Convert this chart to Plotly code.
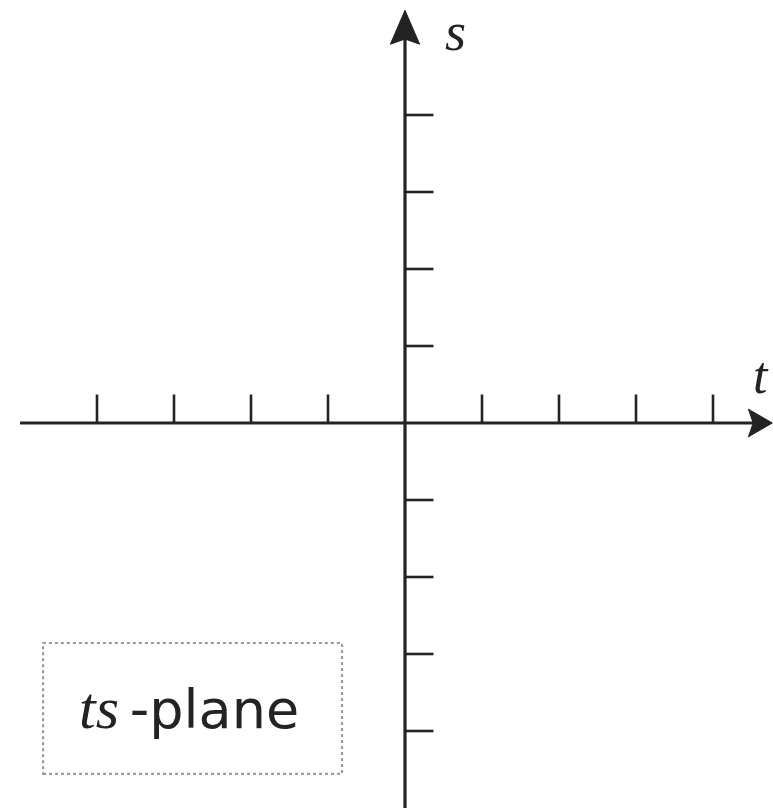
import plotly.graph_objects as go

# ---- data ----
t_ticks = [-4, -3, -2, -1, 1, 2, 3, 4]
s_ticks = [-4, -3, -2, -1, 1, 2, 3, 4]
t_label = "t"
s_label = "s"
plane_label_italic = "ts"
plane_label_rest = "-plane"

# ---- geometry (in axis units, 1 unit ~ 77 px) ----
W, H = 773, 808
unit = 77.0
ox, oy = 405, 423
x_range = [-ox / unit, (W - ox) / unit]
y_range = [-(H - oy) / unit, oy / unit]

t_axis_start, t_axis_tip = -5.0, 4.77
s_axis_start, s_axis_tip = y_range[0], 5.36
tick_len = 0.37
ink = "#232323"

fig = go.Figure()

# axes lines
fig.add_trace(go.Scatter(x=[t_axis_start, t_axis_tip - 0.2], y=[0, 0.0], mode="lines",
                         line=dict(color=ink, width=3.2), hoverinfo="skip"))
fig.add_trace(go.Scatter(x=[0, 0], y=[s_axis_start, s_axis_tip - 0.3], mode="lines",
                         line=dict(color=ink, width=3.2), hoverinfo="skip"))

# ticks on t axis (pointing up)
tx, ty = [], []
for v in t_ticks:
    tx += [v, v, None]
    ty += [0, tick_len, None]
fig.add_trace(go.Scatter(x=tx, y=ty, mode="lines", line=dict(color=ink, width=2.6),
                         hoverinfo="skip"))
# ticks on s axis (pointing right)
sx, sy = [], []
for v in s_ticks:
    sx += [0, tick_len, None]
    sy += [v, v, None]
fig.add_trace(go.Scatter(x=sx, y=sy, mode="lines", line=dict(color=ink, width=2.6),
                         hoverinfo="skip"))

# arrowheads
hl, hw = 0.31, 0.18
fig.add_trace(go.Scatter(
    x=[t_axis_tip, t_axis_tip - hl, t_axis_tip - hl * 0.8, t_axis_tip - hl, t_axis_tip],
    y=[0, hw, 0, -hw, 0], mode="lines", fill="toself", fillcolor=ink,
    line=dict(color=ink, width=1), hoverinfo="skip"))
vl, vw = 0.44, 0.19
fig.add_trace(go.Scatter(
    x=[0, vw, 0, -vw, 0],
    y=[s_axis_tip, s_axis_tip - vl, s_axis_tip - vl * 0.85, s_axis_tip - vl, s_axis_tip],
    mode="lines", fill="toself", fillcolor=ink,
    line=dict(color=ink, width=1), hoverinfo="skip"))

# axis labels
fig.add_annotation(x=4.62, y=0.62, text=f"<i>{t_label}</i>", showarrow=False,
                   font=dict(family="Liberation Serif", size=52, color=ink))
fig.add_annotation(x=0.66, y=1.0, yref="paper", yanchor="top", text=f"<i>{s_label}</i>",
                   showarrow=False,
                   font=dict(family="Liberation Serif", size=54, color=ink))

# plane label box
fig.add_shape(type="rect", x0=-4.70, x1=-0.818, y0=-4.558, y1=-2.857,
              line=dict(color="#9a9a9a", width=2.2, dash="dot"))
fig.add_annotation(
    x=-2.81, y=-3.70, showarrow=False,
    text=(f'<span style="font-family:Liberation Serif;font-size:60px">'
          f'<i>{plane_label_italic}</i></span>&#8201;{plane_label_rest}'),
    font=dict(family="DejaVu Sans", size=54, color=ink))

fig.update_xaxes(range=x_range, visible=False, fixedrange=True)
fig.update_yaxes(range=y_range, visible=False, fixedrange=True)
fig.update_layout(width=W, height=H, margin=dict(l=0, r=0, t=0, b=0),
                  paper_bgcolor="white", plot_bgcolor="white", showlegend=False)

fig.write_html("out.html", config={"displayModeBar": False},
               post_script="document.body.style.margin='0';")
